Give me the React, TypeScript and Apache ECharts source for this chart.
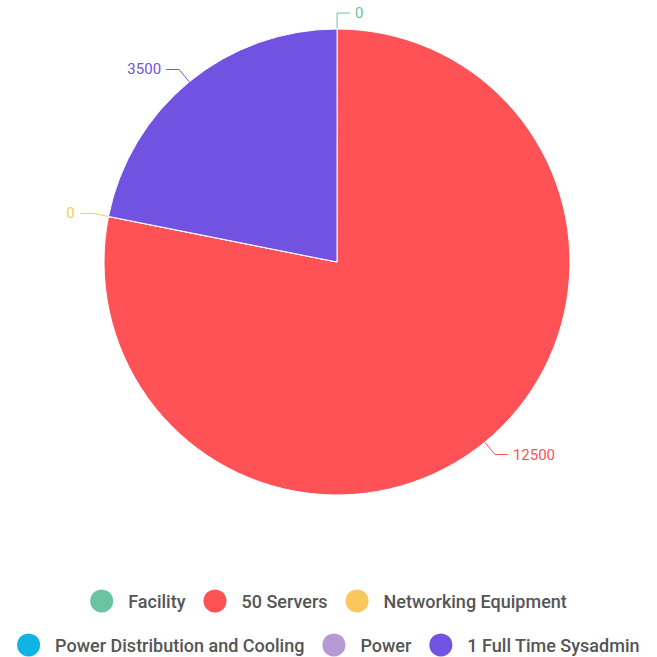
import React, { useEffect, useRef } from "react";
import * as echarts from "echarts";

const categories = [
  "Facility",
  "50 Servers",
  "Networking Equipment",
  "Power Distribution and Cooling",
  "Power",
  "1 Full Time Sysadmin",
];
const values: (number | string)[] = [0, 12500, 0, "-", "-", 3500];
const colors = ["#6cc3a3", "#ff5257", "#f9c75c", "#10b4e3", "#b59ad6", "#7252e0"];
const legendRow1 = categories.slice(0, 3);
const legendRow2 = categories.slice(3);

export default function App() {
  const ref = useRef<HTMLDivElement>(null);
  useEffect(() => {
    if (!ref.current) return;
    const chart = echarts.init(ref.current, undefined, { renderer: "svg" });
    const legendBase = {
      left: "center",
      padding: 5,
      icon: "circle",
      itemWidth: 25,
      itemHeight: 25,
      itemGap: 14,
      textStyle: {
        fontSize: 18,
        fontWeight: 500,
        color: "#555",
        fontFamily: "Roboto",
        lineHeight: 30,
        padding: [0, 2, 0, 9],
      },
    };
    chart.setOption({
      animation: false,
      color: colors,
      textStyle: { fontFamily: "Roboto" },
      legend: [
        { ...legendBase, top: 581, data: legendRow1 },
        { ...legendBase, top: 625, data: legendRow2 },
      ],
      series: [
        {
          type: "pie",
          center: [337, 262],
          radius: [0, 233],
          startAngle: 89.98,
          avoidLabelOverlap: true,
          itemStyle: { borderColor: "#fff", borderWidth: 1 },
          label: {
            show: true,
            formatter: "{c}",
            color: "inherit",
            fontSize: 15,
            fontFamily: "Roboto",
          },
          labelLine: { show: true, length: 16, length2: 13 },
          data: categories.map((name, i) => ({ name, value: values[i] })),
        },
      ],
    });
    return () => chart.dispose();
  }, []);
  return (
    <div
      ref={ref}
      style={{ position: "absolute", left: 0, top: 0, width: 657, height: 657 }}
    />
  );
}
